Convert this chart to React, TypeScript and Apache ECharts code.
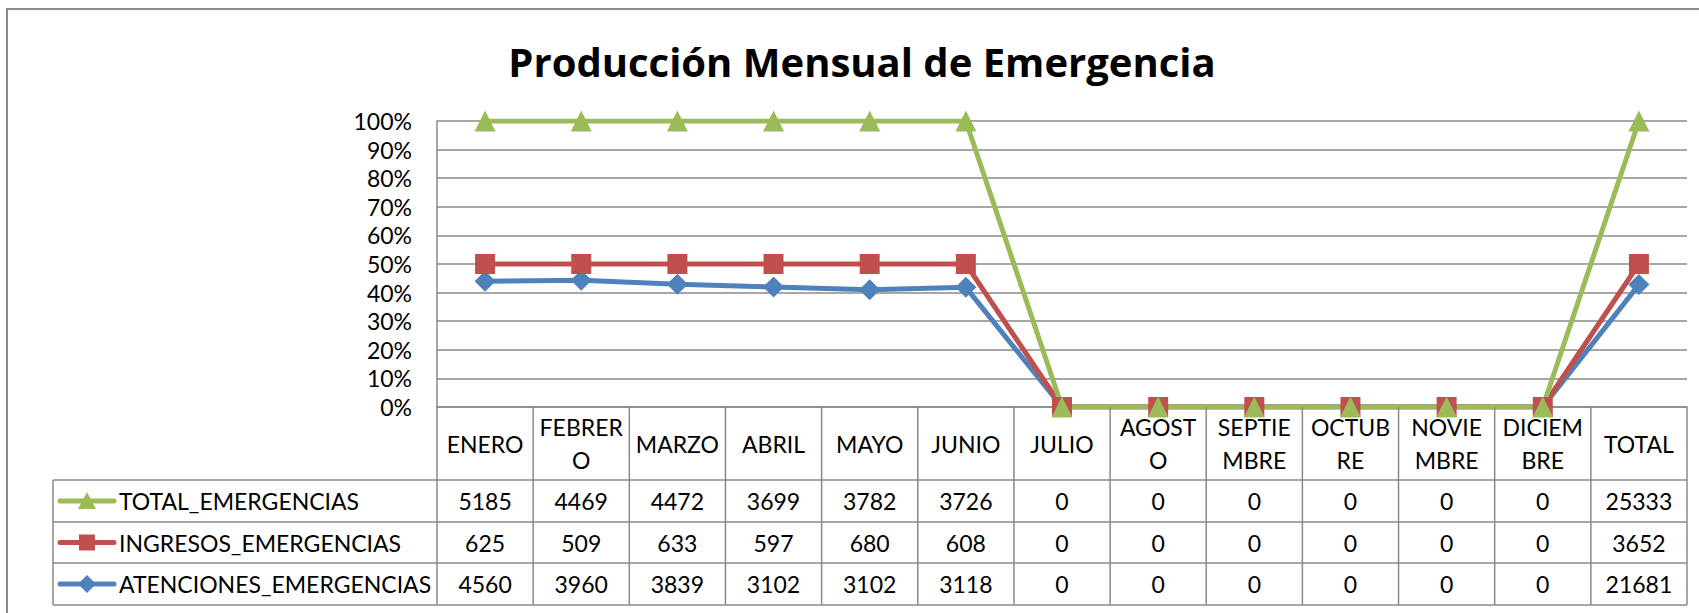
import React, { useEffect, useRef } from 'react';
import * as echarts from 'echarts';

// ---- Data ----
const months = ['ENERO', 'FEBRERO', 'MARZO', 'ABRIL', 'MAYO', 'JUNIO', 'JULIO', 'AGOSTO', 'SEPTIEMBRE', 'OCTUBRE', 'NOVIEMBRE', 'DICIEMBRE', 'TOTAL'];
const monthLabels = ['ENERO', 'FEBRER\nO', 'MARZO', 'ABRIL', 'MAYO', 'JUNIO', 'JULIO', 'AGOST\nO', 'SEPTIE\nMBRE', 'OCTUB\nRE', 'NOVIE\nMBRE', 'DICIEM\nBRE', 'TOTAL'];
const totalEmergencias = [5185, 4469, 4472, 3699, 3782, 3726, 0, 0, 0, 0, 0, 0, 25333];
const ingresosEmergencias = [625, 509, 633, 597, 680, 608, 0, 0, 0, 0, 0, 0, 3652];
const atencionesEmergencias = [4560, 3960, 3839, 3102, 3102, 3118, 0, 0, 0, 0, 0, 0, 21681];
const seriesNames = ['TOTAL_EMERGENCIAS', 'INGRESOS_EMERGENCIAS', 'ATENCIONES_EMERGENCIAS'];
const title = 'Producción Mensual de Emergencia';

// ---- Layout / style ----
const FONT = 'Lato';
const GRID_LEFT = 437;
const GRID_TOP = 121;
const GRID_W = 1250;
const GRID_H = 286;
const TABLE_LEFT = 53;
const HEADER_BOTTOM = 480;
const ROW_LINES = [480, 522, 563, 605];
const LINE_COLOR = '#8a8a8a';
const GREEN = '#9BBB59';
const RED = '#C0504D';
const BLUE = '#4F81BD';
const SERIES_COLORS = [GREEN, RED, BLUE];
const LINE_W = 5;

export default function App() {
  const ref = useRef<HTMLDivElement>(null);

  useEffect(() => {
    if (!ref.current) return;
    const chart = echarts.init(ref.current, undefined, { renderer: 'svg' });

    const sums = months.map((_, i) => totalEmergencias[i] + ingresosEmergencias[i] + atencionesEmergencias[i]);
    const share = (arr: number[]) => arr.map((v, i) => (sums[i] ? (v / sums[i]) * 100 : 0));

    const cw = GRID_W / months.length;
    const gridBottom = GRID_TOP + GRID_H;
    const tableBottom = ROW_LINES[ROW_LINES.length - 1];
    const graphics: any[] = [];

    // outer border
    graphics.push({
      type: 'rect', z: 0, silent: true,
      shape: { x: 7, y: 9, width: 1760, height: 700 },
      style: { fill: 'none', stroke: '#898989', lineWidth: 2 },
    });
    // title
    graphics.push({
      type: 'text', z: 10,
      style: {
        text: title, x: 862, y: 61,
        font: `bold 40px "Open Sans"`, fill: '#000',
        align: 'center', verticalAlign: 'middle', textAlign: 'center', textVerticalAlign: 'middle',
      },
    });
    // table vertical lines
    for (let i = 0; i <= months.length; i++) {
      const x = GRID_LEFT + i * cw;
      graphics.push({
        type: 'line', z: 5, silent: true,
        shape: { x1: x, y1: gridBottom, x2: x, y2: tableBottom },
        style: { stroke: LINE_COLOR, lineWidth: 1.5 },
      });
    }
    graphics.push({
      type: 'line', z: 5, silent: true,
      shape: { x1: TABLE_LEFT, y1: HEADER_BOTTOM, x2: TABLE_LEFT, y2: tableBottom },
      style: { stroke: LINE_COLOR, lineWidth: 1.5 },
    });
    // table horizontal lines
    ROW_LINES.forEach((y) => {
      graphics.push({
        type: 'line', z: 5, silent: true,
        shape: { x1: TABLE_LEFT, y1: y, x2: GRID_LEFT + GRID_W, y2: y },
        style: { stroke: LINE_COLOR, lineWidth: 1.5 },
      });
    });
    // table rows: legend key + values
    const rows = [totalEmergencias, ingresosEmergencias, atencionesEmergencias];
    rows.forEach((row, r) => {
      const yc = (ROW_LINES[r] + ROW_LINES[r + 1]) / 2;
      const color = SERIES_COLORS[r];
      graphics.push({
        type: 'line', z: 10, silent: true,
        shape: { x1: 60, y1: yc, x2: 114, y2: yc },
        style: { stroke: color, lineWidth: LINE_W, lineCap: 'round' },
      });
      const mx = 87;
      if (r === 0) {
        graphics.push({
          type: 'polygon', z: 11, silent: true,
          shape: { points: [[mx, yc - 9], [mx - 9, yc + 8], [mx + 9, yc + 8]] },
          style: { fill: color },
        });
      } else if (r === 1) {
        graphics.push({
          type: 'rect', z: 11, silent: true,
          shape: { x: mx - 8, y: yc - 8, width: 16, height: 16 },
          style: { fill: color },
        });
      } else {
        graphics.push({
          type: 'polygon', z: 11, silent: true,
          shape: { points: [[mx, yc - 9], [mx + 9, yc], [mx, yc + 9], [mx - 9, yc]] },
          style: { fill: color },
        });
      }
      graphics.push({
        type: 'text', z: 10,
        style: {
          text: seriesNames[r], x: 119, y: yc,
          font: `23px ${FONT}`, fill: '#000',
          align: 'left', verticalAlign: 'middle', textAlign: 'left', textVerticalAlign: 'middle',
        },
      });
      row.forEach((v, i) => {
        graphics.push({
          type: 'text', z: 10,
          style: {
            text: String(v), x: GRID_LEFT + (i + 0.5) * cw, y: yc,
            font: `23px ${FONT}`, fill: '#000',
            align: 'center', verticalAlign: 'middle', textAlign: 'center', textVerticalAlign: 'middle',
          },
        });
      });
    });

    const option: any = {
      animation: false,
      backgroundColor: '#fff',
      grid: { left: GRID_LEFT, top: GRID_TOP, width: GRID_W, height: GRID_H, containLabel: false },
      xAxis: {
        type: 'category',
        data: monthLabels,
        boundaryGap: true,
        axisLine: { show: true, lineStyle: { color: LINE_COLOR, width: 1.5 } },
        axisTick: { show: false },
        axisLabel: {
          interval: 0,
          margin: 36.5,
          verticalAlign: 'middle',
          fontFamily: FONT,
          fontSize: 23,
          lineHeight: 33,
          color: '#000',
        },
      },
      yAxis: {
        type: 'value',
        min: 0,
        max: 100,
        interval: 10,
        axisLine: { show: true, lineStyle: { color: LINE_COLOR, width: 1.5 } },
        axisTick: { show: false },
        splitLine: { show: true, lineStyle: { color: LINE_COLOR, width: 1.5 } },
        axisLabel: {
          formatter: '{value}%',
          margin: 25,
          fontFamily: FONT,
          fontSize: 23,
          color: '#000',
        },
      },
      series: [
        {
          name: 'ATENCIONES_EMERGENCIAS', type: 'line', stack: 'pct',
          data: share(atencionesEmergencias),
          symbol: 'diamond', symbolSize: 21,
          lineStyle: { width: LINE_W, color: BLUE }, itemStyle: { color: BLUE },
        },
        {
          name: 'INGRESOS_EMERGENCIAS', type: 'line', stack: 'pct',
          data: share(ingresosEmergencias),
          symbol: 'rect', symbolSize: 20,
          lineStyle: { width: LINE_W, color: RED }, itemStyle: { color: RED },
        },
        {
          name: 'TOTAL_EMERGENCIAS', type: 'line', stack: 'pct',
          data: share(totalEmergencias),
          symbol: 'triangle', symbolSize: 21,
          lineStyle: { width: LINE_W, color: GREEN }, itemStyle: { color: GREEN },
        },
      ],
      graphic: graphics,
    };

    chart.setOption(option);
    return () => chart.dispose();
  }, []);

  return (
    <div
      ref={ref}
      style={{ position: 'fixed', left: 0, top: 0, width: 1699, height: 613, background: '#fff' }}
    />
  );
}
